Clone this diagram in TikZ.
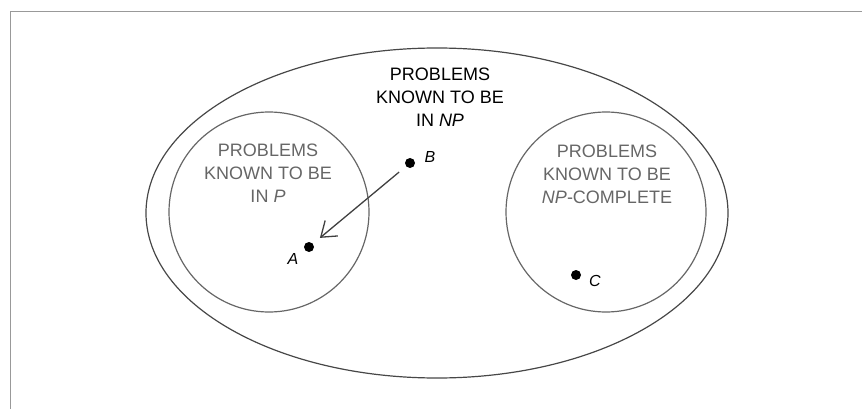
\documentclass[tikz,border=0pt]{standalone}
\usepackage{fontspec}
\setmainfont{Liberation Sans}
\usetikzlibrary{arrows.meta}
\begin{document}
\begin{tikzpicture}[x=1pt, y=-1pt, font=\fontsize{18}{23}\selectfont,
    set/.style={draw=black!60, line width=1.2pt},
    dot/.style={circle, fill=black, inner sep=0pt, minimum size=10pt},
    lbl/.style={font=\fontsize{16}{18}\selectfont\itshape},
    title/.style={align=center, text=black!60}]
  \useasboundingbox (0,0) rectangle (862,409);
  % frame
  \draw[black!40, line width=1pt] (10,409) -- (10,12) -- (862,12);
  % the three sets
  \draw[set, draw=black!72] (437,213) ellipse [x radius=291pt, y radius=165pt];
  \foreach \x in {269,606}
    \draw[set] (\x,212) circle [radius=100pt];
  \node[title, text=black] (np) at (440,97) {PROBLEMS\\ KNOWN TO BE\\ IN \textit{NP}};
  \node[title] (p) at (268,173) {PROBLEMS\\ KNOWN TO BE\\ IN \textit{P}};
  \node[title] (npc) at (607,174) {PROBLEMS\\ KNOWN TO BE\\ \textit{NP}-COMPLETE};
  % problems
  \foreach \n/\x/\y/\lx/\ly in {A/309/247/293/259, B/410/163/430/157, C/576/275/595/281} {
    \node[dot] (\n) at (\x,\y) {};
    \node[lbl] (\n-lbl) at (\lx,\ly) {\n};
  }
  \draw[-{Straight Barb[length=14pt, width=20pt]}, line width=1.3pt, black!75,
    shorten <=9pt, shorten >=9pt] (B) -- (A);
\end{tikzpicture}
\end{document}
